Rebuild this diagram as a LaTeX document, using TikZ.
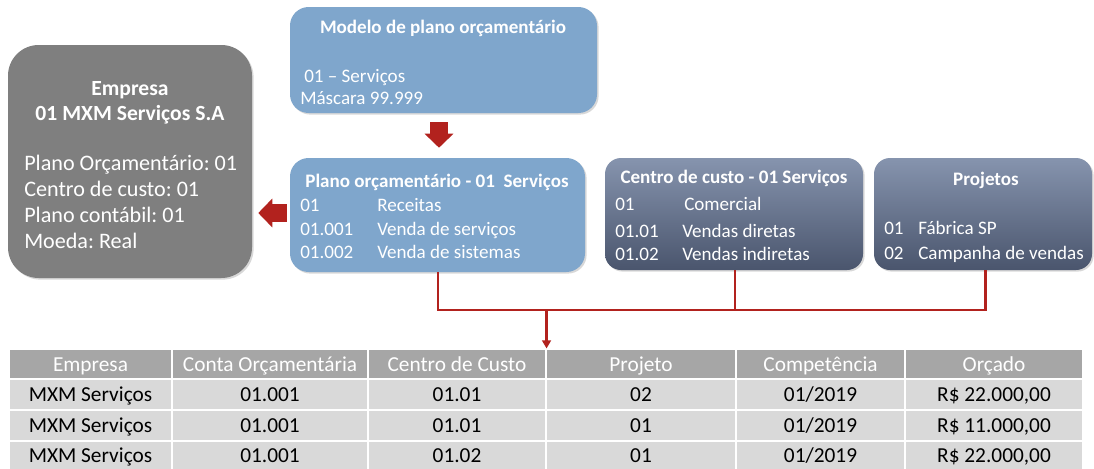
\documentclass[tikz,border=0pt]{standalone}
\usepackage{fontspec}
\setmainfont{Carlito}
\frenchspacing
\usetikzlibrary{fit,calc,arrows.meta,shadows}
\definecolor{boxblue}{RGB}{127,166,204}
\definecolor{slatetop}{RGB}{134,148,174}
\definecolor{slatebot}{RGB}{74,85,109}
\definecolor{empgray}{RGB}{127,127,127}
\definecolor{hdrgray}{RGB}{166,166,166}
\definecolor{rowgray}{RGB}{217,217,217}
\definecolor{conred}{RGB}{178,34,30}
\begin{document}
\begin{tikzpicture}[x=0.75pt,y=-0.75pt,
  shadowed/.style={drop shadow={shadow xshift=1.2pt,shadow yshift=-1.2pt,opacity=0.3}},
  bluebox/.style={fit={#1},inner sep=0pt,fill=boxblue,rounded corners=14pt,shadowed},
  slatebox/.style={fit={#1},inner sep=0pt,top color=slatetop,bottom color=slatebot,rounded corners=12pt,shadowed},
  empbox/.style={fit={#1},inner sep=0pt,fill=empgray,rounded corners=23pt,shadowed},
  btxt/.style={text=white,font=\fontsize{14.3pt}{16pt}\selectfont,inner sep=0pt,text height=0.62em,text depth=0.1em,yshift=-3pt},
  ttxt/.style={btxt,font=\bfseries\fontsize{14.3pt}{16pt}\selectfont},
  etxt/.style={btxt,font=\fontsize{16.6pt}{19pt}\selectfont},
  ettl/.style={btxt,font=\bfseries\fontsize{16.2pt}{19pt}\selectfont},
  blockarrow/.style={draw=conred,line width=13.5pt,-{Triangle[length=10.5pt,width=21pt]}},
  conn/.style={draw=conred,line width=1.9pt},
  hcell/.style={fit={#1},inner sep=0pt,fill=hdrgray,draw=white,line width=0.8pt},
  dcell/.style={fit={#1},inner sep=0pt,fill=rowgray,draw=white,line width=1.5pt},
  htxt/.style={text=white,font=\fontsize{16pt}{18pt}\selectfont,inner sep=0pt,text height=0.62em,text depth=0.1em,yshift=-3pt},
  dtxt/.style={htxt,text=black}
]
\useasboundingbox[fill=white] (0,0) rectangle (1094,468);

% boxes
\node[empbox={(8,45) (252,278)}] (emp) {};
\node[bluebox={(290,7) (597,113)}] (modelo) {};
\node[bluebox={(290,158) (585,272)}] (plano) {};
\node[slatebox={(605,158) (863,270)}] (centro) {};
\node[slatebox={(874,158) (1092,270)}] (proj) {};

% Empresa texts
\node[ettl] (e1) at (130,88) {Empresa};
\node[ettl] (e2) at (130,113) {01 MXM Serviços S.A};
\node[etxt,anchor=west] (e3) at (24,163) {Plano Orçamentário: 01};
\node[etxt,anchor=west] (e4) at (24,189) {Centro de custo: 01};
\node[etxt,anchor=west] (e5) at (24,215) {Plano contábil: 01};
\node[etxt,anchor=west] (e6) at (24,241) {Moeda: Real};

% Modelo texts
\node[ttxt] (m1) at (443,26) {Modelo de plano orçamentário};
\node[btxt,anchor=west] (m2) at (304,75) {01 – Serviços};
\node[btxt,anchor=west] (m3) at (300,97) {Máscara 99.999};

% Plano texts
\node[ttxt] (p0) at (437,180) {Plano orçamentário - 01\ \ Serviços};
\node[btxt,anchor=west] (p1a) at (300,204) {01};
\node[btxt,anchor=west] (p1b) at (377,204) {Receitas};
\node[btxt,anchor=west] (p2a) at (300,228) {01.001};
\node[btxt,anchor=west] (p2b) at (377,228) {Venda de serviços};
\node[btxt,anchor=west] (p3a) at (300,251) {01.002};
\node[btxt,anchor=west] (p3b) at (377,251) {Venda de sistemas};

% Centro texts
\node[ttxt] (c0) at (734,176) {Centro de custo - 01 Serviços};
\node[btxt,anchor=west] (c1a) at (615,203) {01};
\node[btxt,anchor=west] (c1b) at (684,203) {Comercial};
\node[btxt,anchor=west] (c2a) at (615,230) {01.01};
\node[btxt,anchor=west] (c2b) at (682,230) {Vendas diretas};
\node[btxt,anchor=west] (c3a) at (615,253) {01.02};
\node[btxt,anchor=west] (c3b) at (682,253) {Vendas indiretas};

% Projetos texts
\node[ttxt] (j0) at (986,178) {Projetos};
\node[btxt,anchor=west] (j1a) at (884,227) {01};
\node[btxt,anchor=west] (j1b) at (918,227) {Fábrica SP};
\node[btxt,anchor=west] (j2a) at (884,252) {02};
\node[btxt,anchor=west] (j2b) at (918,252) {Campanha de vendas};

% table header cells
\node[hcell={(9,349) (172,379)}] (h1) {};
\node[hcell={(172,349) (368,379)}] (h2) {};
\node[hcell={(368,349) (546,379)}] (h3) {};
\node[hcell={(546,349) (736,379)}] (h4) {};
\node[hcell={(736,349) (905,379)}] (h5) {};
\node[hcell={(905,349) (1083,379)}] (h6) {};
\node[htxt] at (h1.center) {Empresa};
\node[htxt] at (h2.center) {Conta Orçamentária};
\node[htxt] at (h3.center) {Centro de Custo};
\node[htxt] at (h4.center) {Projeto};
\node[htxt] at (h5.center) {Competência};
\node[htxt] at (h6.center) {Orçado};
% rows
\node[dcell={(9,379) (172,410)}] (r1c1) {};
\node[dcell={(172,379) (368,410)}] (r1c2) {};
\node[dcell={(368,379) (546,410)}] (r1c3) {};
\node[dcell={(546,379) (736,410)}] (r1c4) {};
\node[dcell={(736,379) (905,410)}] (r1c5) {};
\node[dcell={(905,379) (1083,410)}] (r1c6) {};
\node[dcell={(9,410) (172,441)}] (r2c1) {};
\node[dcell={(172,410) (368,441)}] (r2c2) {};
\node[dcell={(368,410) (546,441)}] (r2c3) {};
\node[dcell={(546,410) (736,441)}] (r2c4) {};
\node[dcell={(736,410) (905,441)}] (r2c5) {};
\node[dcell={(905,410) (1083,441)}] (r2c6) {};
\node[dcell={(9,441) (172,472)}] (r3c1) {};
\node[dcell={(172,441) (368,472)}] (r3c2) {};
\node[dcell={(368,441) (546,472)}] (r3c3) {};
\node[dcell={(546,441) (736,472)}] (r3c4) {};
\node[dcell={(736,441) (905,472)}] (r3c5) {};
\node[dcell={(905,441) (1083,472)}] (r3c6) {};
\node[dtxt] at (r1c1.center) {MXM Serviços};
\node[dtxt] at (r1c2.center) {01.001};
\node[dtxt] at (r1c3.center) {01.01};
\node[dtxt] at (r1c4.center) {02};
\node[dtxt] at (r1c5.center) {01/2019};
\node[dtxt] at (r1c6.center) {R\$ 22.000,00};
\node[dtxt] at (r2c1.center) {MXM Serviços};
\node[dtxt] at (r2c2.center) {01.001};
\node[dtxt] at (r2c3.center) {01.01};
\node[dtxt] at (r2c4.center) {01};
\node[dtxt] at (r2c5.center) {01/2019};
\node[dtxt] at (r2c6.center) {R\$ 11.000,00};
\node[dtxt] at ([yshift=0.75pt]r3c1.center) {MXM Serviços};
\node[dtxt] at ([yshift=0.75pt]r3c2.center) {01.001};
\node[dtxt] at ([yshift=0.75pt]r3c3.center) {01.02};
\node[dtxt] at ([yshift=0.75pt]r3c4.center) {01};
\node[dtxt] at ([yshift=0.75pt]r3c5.center) {01/2019};
\node[dtxt] at ([yshift=0.75pt]r3c6.center) {R\$ 22.000,00};

% block arrows
\draw[blockarrow,shorten <=6.75pt,shorten >=7.5pt] ($(modelo.south)+(-4.5,0)$) -- ($(modelo.south |- plano.north)+(-4.5,0)$);
\draw[blockarrow,shorten <=2.25pt,shorten >=4.5pt] ($(plano.west)+(0,-2)$) -- ($(plano.west -| emp.east)+(0,-2)$);

% connectors
\coordinate (bus) at (0,310);
\draw[conn] ($(plano.south)+(0.5,0)$) |- ($(bus -| proj.south)+(2.5,0)$) -- ($(proj.south)+(2.5,0)$);
\draw[conn] ($(centro.south)+(1,0)$) -- ($(centro.south |- bus)+(1,0)$);
\draw[conn,-{Triangle[length=6pt,width=6.5pt]}] (bus -| h3.north east) -- (h3.north east);
\end{tikzpicture}
\end{document}
